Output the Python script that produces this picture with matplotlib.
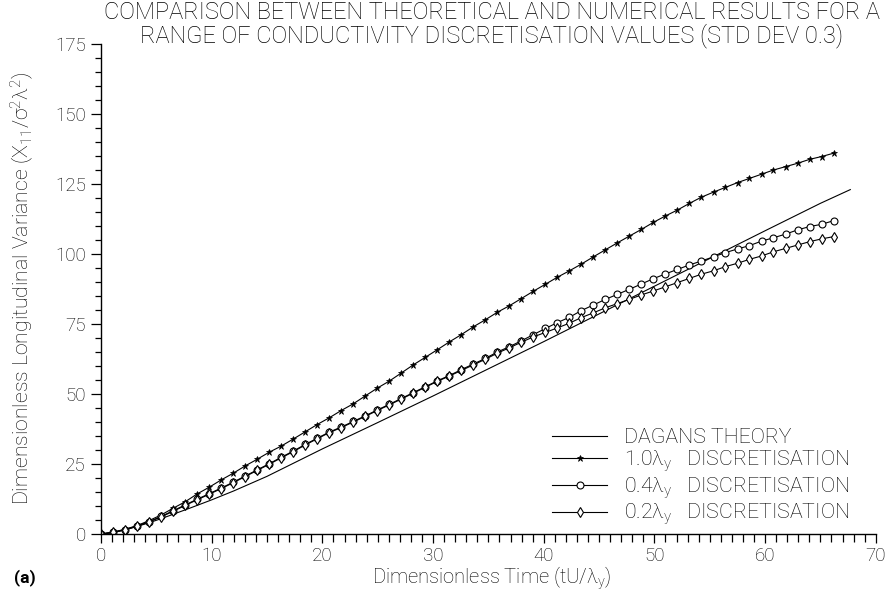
import matplotlib
matplotlib.use('Agg')
from matplotlib import pyplot as plt
from matplotlib.ticker import MultipleLocator

# sample times of the numerical runs (markers)
tiempos = [0.00, 1.09, 2.17, 3.26, 4.34, 5.43, 6.51, 7.60, 8.68, 9.77,
           10.85, 11.94, 13.02, 14.11, 15.19, 16.28, 17.36, 18.45, 19.53, 20.62,
           21.70, 22.79, 23.87, 24.96, 26.04, 27.13, 28.21, 29.30, 30.38, 31.47,
           32.55, 33.64, 34.72, 35.81, 36.89, 37.98, 39.06, 40.15, 41.23, 42.32,
           43.40, 44.49, 45.57, 46.66, 47.74, 48.83, 49.91, 51.00, 52.08, 53.17,
           54.25, 55.34, 56.42, 57.51, 58.59, 59.68, 60.76, 61.85, 62.93, 64.02,
           65.10, 66.19]

disc_10 = [0.0, 0.7, 1.7, 3.0, 4.8, 6.8, 9.2, 11.5, 14.3, 16.7,
           19.3, 21.7, 24.3, 26.7, 29.2, 31.4, 33.9, 36.5, 39.1, 41.5,
           44.1, 46.5, 49.3, 52.1, 54.6, 57.5, 60.4, 63.1, 65.8, 68.6,
           71.2, 74.0, 76.5, 79.2, 81.5, 84.1, 86.7, 89.2, 91.7, 94.0,
           96.4, 99.0, 101.5, 104.0, 106.4, 108.8, 111.3, 113.6, 115.7, 118.1,
           120.3, 122.1, 123.8, 125.5, 127.0, 128.5, 130.0, 131.2, 132.4, 133.8,
           134.8, 136.0]

disc_04 = [0.0, 0.6, 1.6, 2.9, 4.4, 6.3, 8.3, 10.4, 12.4, 14.4,
           16.4, 18.5, 20.7, 22.9, 25.1, 27.4, 29.6, 32.0, 34.2, 36.4,
           38.2, 40.2, 42.2, 44.3, 46.3, 48.4, 50.5, 52.6, 54.7, 56.6,
           58.7, 60.7, 62.7, 65.0, 66.9, 69.0, 71.2, 73.4, 75.5, 77.4,
           79.8, 81.8, 83.8, 85.6, 87.4, 89.3, 91.2, 92.9, 94.5, 96.1,
           97.5, 99.0, 100.5, 101.8, 103.0, 104.6, 105.8, 107.1, 108.6, 109.8,
           110.6, 111.9]

disc_02 = [0.0, 0.6, 1.5, 2.8, 4.3, 6.1, 8.1, 10.2, 12.2, 14.2,
           16.2, 18.3, 20.5, 22.7, 24.9, 27.2, 29.4, 31.8, 34.0, 36.2,
           38.0, 40.0, 42.0, 44.1, 46.1, 48.2, 50.3, 52.4, 54.5, 56.4,
           58.4, 60.4, 62.4, 64.6, 66.5, 68.5, 70.4, 72.0, 73.6, 75.3,
           77.3, 79.0, 80.8, 82.3, 83.8, 85.4, 86.8, 88.3, 89.8, 91.3,
           92.8, 94.0, 95.5, 96.7, 98.1, 99.3, 100.8, 102.0, 103.2, 104.4,
           105.4, 106.2]

# Dagan theory curve
t_teoria = [0, 1, 2, 3, 4, 5, 6, 8, 10, 12, 15, 20, 25, 30, 35, 40, 45, 50, 55, 60, 65, 67.7]
v_teoria = [0, 0.4, 1.3, 2.4, 3.6, 4.9, 6.3, 9.2, 12.2, 15.4, 20.6, 30.4, 39.8, 49.3, 59.0,
            68.7, 78.6, 88.5, 98.4, 108.3, 118.1, 123.0]

etiquetas = ['DAGANS THEORY',
             r'1.0$\mathregular{\lambda_y}$   DISCRETISATION',
             r'0.4$\mathregular{\lambda_y}$   DISCRETISATION',
             r'0.2$\mathregular{\lambda_y}$   DISCRETISATION']

titulo = ('COMPARISON BETWEEN THEORETICAL AND NUMERICAL RESULTS FOR A\n'
          'RANGE OF CONDUCTIVITY DISCRETISATION VALUES (STD DEV 0.3)')

plt.rcParams['font.family'] = ['Roboto', 'DejaVu Sans']
plt.rcParams['font.weight'] = 'light'

fig = plt.figure(figsize=(8.9, 5.97), dpi=100)
ax = fig.add_axes([0.1135, 0.1055, 0.8705, 0.8208])

lw = 0.8
ax.plot(t_teoria, v_teoria, color='black', lw=lw, label=etiquetas[0])
ax.plot(tiempos, disc_10, color='black', lw=lw, marker='*', ms=4.5,
        mfc='black', mec='black', mew=0.5, label=etiquetas[1])
ax.plot(tiempos, disc_04, color='black', lw=lw, marker='o', ms=5,
        mfc='white', mec='black', mew=0.8, label=etiquetas[2])
ax.plot(tiempos, disc_02, color='black', lw=lw, marker='d', ms=5.5,
        mfc='white', mec='black', mew=0.8, label=etiquetas[3])

ax.set_xlim(0, 70)
ax.set_ylim(0, 175)
ax.spines['top'].set_visible(False)
ax.spines['right'].set_visible(False)
ax.spines['left'].set_linewidth(1.0)
ax.spines['bottom'].set_linewidth(1.0)
ax.xaxis.set_major_locator(MultipleLocator(10))
ax.xaxis.set_minor_locator(MultipleLocator(1))
ax.yaxis.set_major_locator(MultipleLocator(25))
ax.yaxis.set_minor_locator(MultipleLocator(5))
ax.tick_params(axis='x', which='major', direction='out', length=6.5, width=0.9, pad=3, labelsize=13.5)
ax.tick_params(axis='x', which='minor', direction='out', length=5.5, width=0.9)
ax.tick_params(axis='y', which='major', direction='out', length=7, width=0.9, pad=4, labelsize=13.5)
ax.tick_params(axis='y', which='minor', direction='out', length=4.5, width=0.9)

ax.legend(loc='upper left', bbox_to_anchor=(552 / 890, 1 - 428 / 597),
          bbox_transform=fig.transFigure, frameon=False, fontsize=15.3,
          handlelength=2.6, handletextpad=0.8, labelspacing=0.06,
          borderpad=0, borderaxespad=0)

fig.text(492 / 890, 1 - 24.5 / 597, titulo, ha='center', va='center',
         multialignment='center', fontsize=17, linespacing=1.0)
fig.text(492 / 890, 1 - 578 / 597, r'Dimensionless Time (tU/$\mathregular{\lambda_y}$)',
         ha='center', va='center', fontsize=14.5)
fig.text(22 / 890, 1 - 288 / 597,
         r'Dimensionless Longitudinal Variance (X$\mathregular{_{11}}$/$\mathregular{\sigma^2\lambda^2}$)',
         ha='center', va='center', rotation=90, fontsize=15.3)
fig.text(25 / 890, 1 - 578 / 597, '(a)', ha='center', va='center', fontsize=12.5, fontweight='bold')

fig.savefig('out.png', dpi=100)
